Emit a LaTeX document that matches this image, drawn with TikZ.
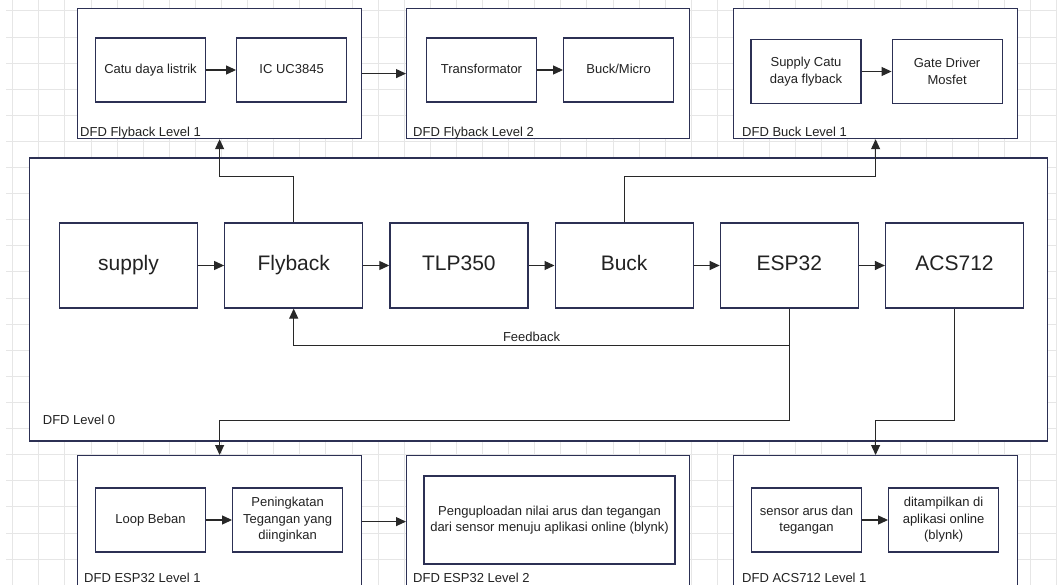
\documentclass[tikz,border=0pt]{standalone}
\usepackage{fontspec}
\setmainfont{Liberation Sans}
\usetikzlibrary{arrows.meta,positioning,calc}
\definecolor{boxline}{RGB}{44,48,84}
\definecolor{txt}{RGB}{34,34,34}
\definecolor{wire}{RGB}{40,40,40}
\definecolor{gridgray}{RGB}{230,230,230}

\begin{document}
\begin{tikzpicture}[x=1pt,y=-1pt]

  \tikzstyle{every node}=[font=\fontsize{13}{16.5}\selectfont, text=txt]

  \tikzset{frame/.style={draw=boxline, fill=white, line width=1.2pt,
      anchor=north west, inner sep=0pt},
    block/.style={draw=boxline, fill=white, line width=1.2pt,
      minimum width=138pt, minimum height=85pt,
      text height=15pt, text depth=4.5pt,
      font=\fontsize{21}{25}\selectfont},
    subblock/.style={draw=boxline, fill=white, line width=1.1pt,
      minimum width=110pt, minimum height=64pt, align=center, inner sep=2pt},
    oneline/.style={text height=9.5pt, text depth=3pt},
    frametitle/.style={anchor=base west, inner sep=0pt},
    flow/.style={draw=wire, line width=1.1pt,
      -{Triangle[length=10pt,width=9pt]}}}

  % Canvas and grid
  \useasboundingbox (0,0) rectangle (1057,585);
  \clip (0,0) rectangle (1057,585);
  \fill[white] (0,0) rectangle (1057,585);
  \foreach \i in {0,...,40}
    \draw[gridgray, line width=1pt] ({12.7+26.1*\i},0) -- ({12.7+26.1*\i},585);
  \foreach \j in {0,...,22}
    \draw[gridgray, line width=1pt] (6,{11+26.1*\j}) -- (1057,{11+26.1*\j});

  % Level 0 frame
  \node[frame, minimum width=1018pt, minimum height=283pt] (Level 0) at (28.7,157.4) {};
  \node[frametitle] at ($(Level 0.south west)+(14,-17)$) {DFD Level 0};

  % Level 1 / 2 frames
  \node[frame, minimum width=284pt, minimum height=130pt] (Flyback L1) at (77,8) {};
  \node[frame, minimum width=283pt, minimum height=130pt] (Flyback L2) at (406,8) {};
  \node[frame, minimum width=284pt, minimum height=130pt] (Buck L1) at (733,8) {};
  \node[frame, minimum width=284pt, minimum height=132pt] (ESP32 L1) at (77,455) {};
  \node[frame, minimum width=283pt, minimum height=132pt] (ESP32 L2) at (406,455) {};
  \node[frame, minimum width=284pt, minimum height=132pt] (ACS712 L1) at (733,455) {};

  \node[frametitle] at ($(Flyback L1.south west)+(3,-3)$) {DFD Flyback Level 1};
  \node[frametitle] at ($(Flyback L2.south west)+(7,-3)$) {DFD Flyback Level 2};
  \node[frametitle] at ($(Buck L1.south west)+(9,-3)$) {DFD Buck Level 1};
  \node[frametitle] at (84,582) {DFD ESP32 Level 1};
  \node[frametitle] at (413,582) {DFD ESP32 Level 2};
  \node[frametitle] at (742,582) {DFD ACS712 Level 1};

  % Main chain
  \node[block] (supply) at (128.5,265.5) {supply};
  \node[block, right=26pt of supply] (Flyback) {Flyback};
  \node[block, right=26pt of Flyback] (TLP350) {TLP350};
  \node[block, right=26pt of TLP350] (Buck) {Buck};
  \node[block, right=26pt of Buck] (ESP32) {ESP32};
  \node[block, right=26pt of ESP32] (ACS712) {ACS712};

  \draw[flow] (supply) -- (Flyback);
  \draw[flow] (Flyback) -- (TLP350);
  \draw[flow] (TLP350) -- (Buck);
  \draw[flow] (Buck) -- (ESP32);
  \draw[flow] (ESP32) -- (ACS712);

  % Inside the small frames
  \node[subblock, oneline] (Catu daya) at (150.5,70) {Catu daya listrik};
  \node[subblock, oneline, right=30pt of Catu daya] (IC UC3845) {IC UC3845};
  \node[subblock, oneline] (Transformator) at (481.5,70) {Transformator};
  \node[subblock, oneline, right=26pt of Transformator] (Buck Micro) {Buck/Micro};
  \node[subblock] (Supply Catu) at (806,71.5) {Supply Catu\\daya flyback};
  \node[subblock, right=30pt of Supply Catu] (Gate Driver) {Gate Driver\\Mosfet};

  \node[subblock, oneline] (Loop Beban) at (150.5,520) {Loop Beban};
  \node[subblock, right=26pt of Loop Beban] (Peningkatan) {Peningkatan\\Tegangan yang\\diinginkan};
  \node[subblock, minimum width=251pt, minimum height=88pt] (Penguploadan) at (549.5,520)
    {Penguploadan nilai arus dan tegangan\\dari sensor menuju aplikasi online (blynk)};
  \node[subblock] (Sensor) at (806.5,520) {sensor arus dan\\tegangan};
  \node[subblock, right=26pt of Sensor] (Ditampilkan) {ditampilkan di\\aplikasi online\\(blynk)};

  \draw[flow] (Catu daya) -- (IC UC3845);
  \draw[flow] (Transformator) -- (Buck Micro);
  \draw[flow] (Supply Catu) -- (Gate Driver);
  \draw[flow] (Loop Beban) -- (Peningkatan);
  \draw[flow] (Sensor) -- (Ditampilkan);

  \draw[flow] (Flyback L1) -- (Flyback L2);
  \draw[flow] (ESP32 L1) -- (ESP32 L2);

  % Links from level 0 to the other levels
  \draw[flow] (Flyback.north) -- ++(0,-46) -| (Flyback L1.south);
  \draw[flow] (Buck.north) -- ++(0,-46) -| (Buck L1.south);
  \draw[flow] (ESP32.south) -- ++(0,37) -| node[pos=0.26, above, inner sep=3pt] {Feedback} (Flyback.south);
  \draw[flow] (ESP32.south) -- ++(0,112) -| (ESP32 L1.north);
  \draw[flow] (ACS712.south) -- ++(0,112) -| (ACS712 L1.north);

\end{tikzpicture}
\end{document}
